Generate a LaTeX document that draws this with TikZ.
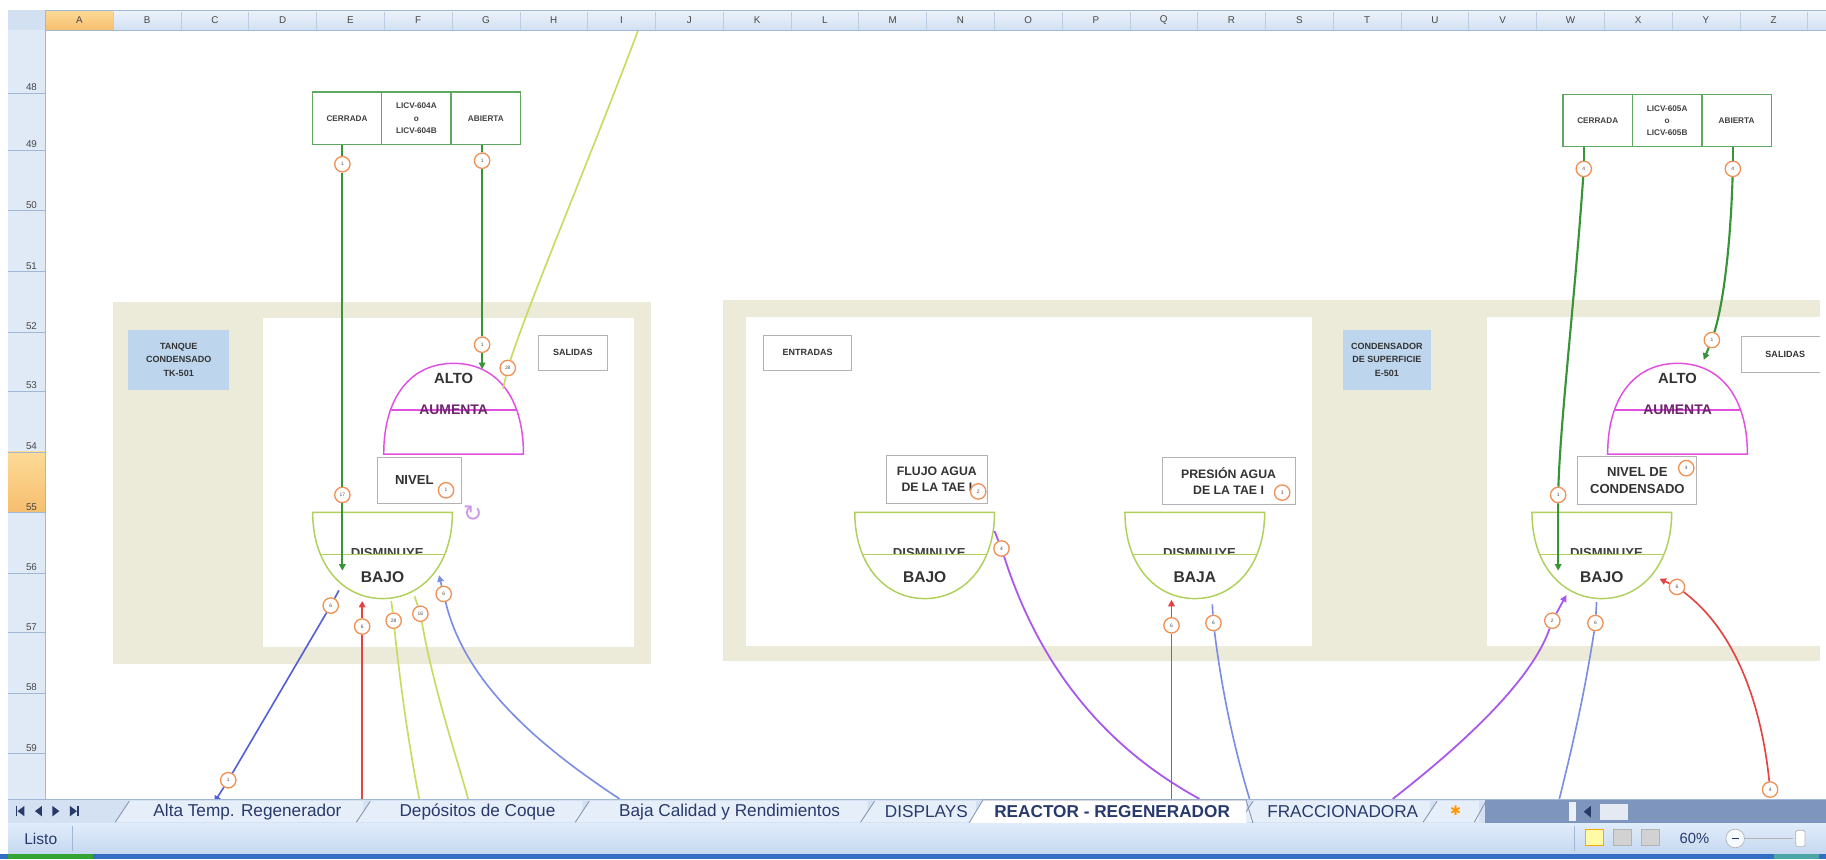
\documentclass[tikz,border=0pt]{standalone}
\usepackage{fontspec}
\setmainfont{Liberation Sans}
\newfontfamily\dejavu{DejaVu Sans}
\usetikzlibrary{arrows.meta}

\definecolor{beige}{RGB}{236,234,216}
\definecolor{boxblue}{RGB}{189,214,238}
\definecolor{tblgreen}{RGB}{96,168,96}
\definecolor{linegreen}{RGB}{56,148,56}
\definecolor{domemag}{RGB}{226,80,226}
\definecolor{aumpurple}{RGB}{110,36,110}
\definecolor{bowlgreen}{RGB}{176,208,92}
\definecolor{ylgreen}{RGB}{198,220,96}
\definecolor{tagorange}{RGB}{240,144,84}
\definecolor{blueline}{RGB}{86,96,214}
\definecolor{lblueline}{RGB}{124,142,228}
\definecolor{redline}{RGB}{230,66,66}
\definecolor{purpline}{RGB}{170,88,234}
\definecolor{lilac}{RGB}{204,150,236}
\definecolor{hdrtop}{RGB}{236,242,250}
\definecolor{hdrbot}{RGB}{210,224,242}
\definecolor{hdrline}{RGB}{160,184,214}
\definecolor{rowfill}{RGB}{224,234,247}
\definecolor{seltop}{RGB}{252,218,150}
\definecolor{selbot}{RGB}{246,190,110}
\definecolor{tabbar}{RGB}{212,225,242}
\definecolor{tabfill}{RGB}{230,238,249}
\definecolor{scrollfill}{RGB}{126,150,190}
\definecolor{stattop}{RGB}{224,236,250}
\definecolor{statbot}{RGB}{198,216,240}
\definecolor{tabtext}{RGB}{40,58,108}
\definecolor{barblue}{RGB}{52,110,196}

\tikzset{
  cell/.style={draw=tblgreen, line width=0.9pt, fill=white, minimum width=1.49cm, minimum height=1.125cm,
    inner sep=1pt, align=center, text=black!75, font=\fontsize{5}{7.5}\selectfont\bfseries},
  unitbox/.style={fill=boxblue, align=center, inner sep=1pt, text=black!80, font=\fontsize{5.5}{8}\selectfont\bfseries},
  outbox/.style={draw=gray!60, line width=0.6pt, fill=white, inner sep=1pt, text=black!80, font=\fontsize{5.5}{7}\selectfont\bfseries},
  varbox/.style={draw=gray!60, line width=0.6pt, fill=white, align=center, inner sep=1pt, text=black!80, font=\fontsize{7.5}{9.5}\selectfont\bfseries},
  tag/.style={circle, draw=tagorange, fill=white, line width=0.8pt, inner sep=0pt, minimum size=0.33cm, text=black!70, font=\fontsize{3}{3}\selectfont},
  domeline/.style={draw=domemag, line width=0.9pt},
  bowlline/.style={draw=bowlgreen, line width=0.9pt},
  altotxt/.style={inner sep=0pt, text=black!80, font=\fontsize{9}{9}\selectfont\bfseries},
  aumtxt/.style={inner sep=0pt, text=aumpurple, font=\fontsize{8.5}{8.5}\selectfont\bfseries},
  distxt/.style={inner sep=0pt, text=black!75, font=\fontsize{8}{8}\selectfont\bfseries},
  bajotxt/.style={inner sep=0pt, text=black!80, font=\fontsize{9.5}{9.5}\selectfont\bfseries},
  gline/.style={draw=linegreen, line width=1.3pt},
  yline/.style={draw=ylgreen, line width=1pt},
  bline/.style={draw=blueline, line width=1pt},
  lbline/.style={draw=lblueline, line width=1pt},
  rline/.style={draw=redline, line width=1pt},
  pline/.style={draw=purpline, line width=1.1pt},
  arrowend/.style={-{Triangle[length=4pt,width=4pt]}},
  colhead/.style={inner sep=0pt, text=gray!55!black, font=\fontsize{6}{6}\selectfont},
  rowhead/.style={inner sep=0pt, anchor=base east, text=gray!55!black, font=\fontsize{6}{6}\selectfont},
  tablbl/.style={inner sep=0pt, text=tabtext, font=\fontsize{10.5}{12}\selectfont},
}

% ALTO / AUMENTA half disc, #1 = centre x, #2 = name prefix
\newcommand{\domeat}[2]{%
  \begin{scope}[shift={(#1,0)}]
    \fill[white] (-60,390) .. controls (-60,340) and (-36,312) .. (0,312) .. controls (36,312) and (60,340) .. (60,390) -- cycle;
    \begin{scope}
      \clip (-60,390) .. controls (-60,340) and (-36,312) .. (0,312) .. controls (36,312) and (60,340) .. (60,390) -- cycle;
      \draw[domeline] (-61,352) -- (61,352);
    \end{scope}
    \draw[domeline] (-60,390) .. controls (-60,340) and (-36,312) .. (0,312) .. controls (36,312) and (60,340) .. (60,390) -- cycle;
    \node[altotxt] (#2alto) at (0,325) {ALTO};
    \node[aumtxt] (#2aum) at (0,352) {AUMENTA};
  \end{scope}}

% DISMINUYE / BAJO bowl, #1 = centre x, #2 = name prefix, #3 #4 = texts
\newcommand{\bowlat}[4]{%
  \begin{scope}[shift={(#1,0)}]
    \node[distxt, anchor=base] (#2dis) at (4,479) {#3};
    \begin{scope}
      \clip (-60,440) .. controls (-60,485) and (-34,514) .. (0,514) .. controls (34,514) and (60,485) .. (60,440) -- cycle;
      \fill[white] (-61,476) rectangle (61,516);
      \draw[bowlline] (-61,476) -- (61,476);
    \end{scope}
    \draw[bowlline] (-60,440) .. controls (-60,485) and (-34,514) .. (0,514) .. controls (34,514) and (60,485) .. (60,440) -- cycle;
    \node[bajotxt] (#2bajo) at (0,496) {#4};
  \end{scope}}

\begin{document}
\begin{tikzpicture}[x=0.025cm, y=-0.025cm]
  \useasboundingbox (0,0) rectangle (1568,738);
  \fill[white] (0,0) rectangle (1568,738);

  \begin{scope}
    \clip (39,26) rectangle (1563,686);
    % panels
    \fill[beige] (97,259) rectangle (559,570);
    \fill[white] (226,273) rectangle (544,556);
    \fill[beige] (621,258) rectangle (1563,568);
    \fill[white] (641,272) rectangle (1127,555);
    \fill[white] (1277,272) rectangle (1563,555);

    % equipment labels
    \node[unitbox, minimum width=2.175cm, minimum height=1.3cm] (tk501) at (153.5,309) {TANQUE\\CONDENSADO\\TK-501};
    \node[unitbox, minimum width=1.9cm, minimum height=1.3cm] (e501) at (1191,309) {CONDENSADOR\\DE SUPERFICIE\\E-501};

    % valve tables
    \node[cell] (cerrA) at (298,101.5) {CERRADA};
    \node[cell] (licvA) at (357.6,101.5) {LICV-604A\\o\\LICV-604B};
    \node[cell] (abieA) at (417.2,101.5) {ABIERTA};
    \node[cell] (cerrR) at (1372,103.5) {CERRADA};
    \node[cell] (licvR) at (1431.6,103.5) {LICV-605A\\o\\LICV-605B};
    \node[cell] (abieR) at (1491.2,103.5) {ABIERTA};

    % inputs / outputs
    \node[outbox, minimum width=1.5cm, minimum height=0.75cm] (salA) at (492,303) {SALIDAS};
    \node[outbox, minimum width=1.875cm, minimum height=0.75cm] (entM) at (693.5,303) {ENTRADAS};
    \node[outbox, minimum width=1.9cm, minimum height=0.775cm] (salR) at (1533,304.5) {SALIDAS};

    % variables
    \node[varbox, font=\fontsize{8}{9.5}\selectfont\bfseries, minimum width=1.8cm, minimum height=0.975cm] (nivA) at (360,412.5) {NIVEL\hspace{6pt}};
    \node[varbox, minimum width=2.175cm, minimum height=1.025cm] (fluM) at (804.5,411.5) {FLUJO AGUA\\DE LA TAE I\hspace{4pt}};
    \node[varbox, minimum width=2.85cm, minimum height=1cm] (preM) at (1055,413) {PRESIÓN AGUA\\DE LA TAE I};
    \node[varbox, font=\fontsize{8}{10}\selectfont\bfseries, minimum width=2.55cm, minimum height=1.025cm] (nivR) at (1406,412.5) {NIVEL DE\\CONDENSADO};

    % membership sets
    \domeat{389.5}{A}
    \domeat{1440.5}{R}
    \bowlat{328.5}{A}{DISMINUYE}{BAJO}
    \bowlat{794}{M}{DISMINUYE}{BAJO}
    \bowlat{1026}{N}{DISMINUYE}{BAJA}
    \bowlat{1375.5}{R}{DISMINUYE}{BAJO}
    \node[inner sep=0pt, text=lilac, font=\dejavu\fontsize{14}{14}\selectfont] (rotA) at (406,441) {↻};

    % tags
    \node[tag] (tA1) at (294,141) {1};
    \node[tag] (tA2) at (414,138) {1};
    \node[tag] (tA3) at (294,425) {17};
    \node[tag] (tA4) at (414,296) {1};
    \node[tag] (tA5) at (436,316) {28};
    \node[tag] (tA6) at (383,421) {1};
    \node[tag] (tA7) at (284,520) {6};
    \node[tag] (tA8) at (196,670) {1};
    \node[tag] (tA9) at (311,538) {6};
    \node[tag] (tA10) at (338,533) {28};
    \node[tag] (tA11) at (361,527) {16};
    \node[tag] (tA12) at (381,510) {6};
    \node[tag] (tM1) at (840,422) {2};
    \node[tag] (tM2) at (860,471) {4};
    \node[tag] (tM3) at (1101,423) {3};
    \node[tag] (tM4) at (1006,537) {6};
    \node[tag] (tM5) at (1042,535) {6};
    \node[tag] (tR1) at (1360,145) {4};
    \node[tag] (tR2) at (1488,145) {4};
    \node[tag] (tR3) at (1338,425) {1};
    \node[tag] (tR4) at (1470,292) {1};
    \node[tag] (tR5) at (1448,402) {4};
    \node[tag] (tR6) at (1333,533) {2};
    \node[tag] (tR7) at (1370,535) {6};
    \node[tag] (tR8) at (1440,504) {6};
    \node[tag] (tR9) at (1520,678) {4};

    % free ends
    \coordinate (eA1) at (294,490);
    \coordinate (eA2) at (414,317);
    \coordinate (yTop) at (548,26);
    \coordinate (eA5) at (432,334);
    \coordinate (sA7) at (291,507);
    \coordinate (eA8) at (184,689);
    \coordinate (eA9) at (311,516);
    \coordinate (bA9) at (311,686);
    \coordinate (sA10) at (336,516);
    \coordinate (bA10) at (360,686);
    \coordinate (sA11) at (356,512);
    \coordinate (bA11) at (402,686);
    \coordinate (eA12) at (377,494);
    \coordinate (bA12) at (532,686);
    \coordinate (sM2) at (854,456);
    \coordinate (bM2) at (1030,686);
    \coordinate (eM4) at (1006,515);
    \coordinate (bM4) at (1006,686);
    \coordinate (sM5) at (1041,519);
    \coordinate (bM5) at (1073,686);
    \coordinate (eR3) at (1338,490);
    \coordinate (eR4) at (1463,309);
    \coordinate (eR6) at (1345,511);
    \coordinate (bR6) at (1196,686);
    \coordinate (sR7) at (1371,517);
    \coordinate (bR7) at (1339,686);
    \coordinate (eR8) at (1425,497);

    % connectors, left block
    \draw[gline] (cerrA.south -| tA1) -- (tA1);
    \draw[gline, arrowend] (tA1) -- (tA3) -- (eA1);
    \draw[gline] (abieA.south -| tA2) -- (tA2);
    \draw[gline, arrowend] (tA2) -- (tA4) -- (eA2);
    \draw[yline] (yTop) .. controls (505,140) and (458,250) .. (tA5);
    \draw[yline] (tA5) -- (eA5);
    \draw[bline] (sA7) -- (tA7) -- (tA8);
    \draw[bline, arrowend] (tA8) -- (eA8);
    \draw[rline] (bA9) -- (tA9);
    \draw[rline, arrowend] (tA9) -- (eA9);
    \draw[yline] (sA10) -- (tA10);
    \draw[yline] (tA10) .. controls (345,600) and (353,650) .. (bA10);
    \draw[yline] (sA11) -- (tA11);
    \draw[yline] (tA11) .. controls (372,590) and (392,650) .. (bA11);
    \draw[lbline, arrowend] (tA12) -- (eA12);
    \draw[lbline] (tA12) .. controls (400,590) and (470,645) .. (bA12);

    % connectors, middle block
    \draw[pline] (sM2) -- (tM2);
    \draw[pline] (tM2) .. controls (895,580) and (955,645) .. (bM2);
    \draw[rline] (bM4) -- (tM4);
    \draw[rline, arrowend] (tM4) -- (eM4);
    \draw[lbline] (sM5) -- (tM5);
    \draw[lbline] (tM5) .. controls (1050,600) and (1062,650) .. (bM5);

    % connectors, right block
    \draw[gline] (cerrR.south -| tR1) -- (tR1);
    \draw[gline, arrowend] (tR1) .. controls (1352,260) and (1340,360) .. (tR3) -- (eR3);
    \draw[gline] (abieR.south -| tR2) -- (tR2);
    \draw[gline, arrowend] (tR2) .. controls (1486,210) and (1480,260) .. (tR4) -- (eR4);
    \draw[pline, arrowend] (tR6) -- (eR6);
    \draw[pline] (bR6) .. controls (1255,640) and (1315,585) .. (tR6);
    \draw[lbline] (sR7) -- (tR7);
    \draw[lbline] (tR7) .. controls (1360,600) and (1348,650) .. (bR7);
    \draw[rline, arrowend] (tR8) -- (eR8);
    \draw[rline] (tR9) .. controls (1512,600) and (1488,540) .. (tR8);
  \end{scope}

  % column headers
  \fill[top color=hdrtop, bottom color=hdrbot] (7,9) rectangle (1568,26);
  \fill[top color=seltop, bottom color=selbot] (39,9) rectangle (97.2,26);
  \foreach \i in {0,...,26}
    \draw[hdrline!70!white] ({39+58.2*\i},10) -- ({39+58.2*\i},26);
  \foreach \c [count=\i from 0] in {A,...,Z}
    \node[colhead] (col\c) at ({68.1+58.2*\i},17.5) {\c};
  \draw[hdrline] (7,9) -- (1568,9);
  \draw[hdrline] (7,26) -- (1568,26);

  % row headers
  \fill[rowfill] (7,26) rectangle (39,686);
  \fill[hdrbot] (7,9) rectangle (39,26);
  \fill[top color=seltop, bottom color=selbot] (7,388) rectangle (39,440);
  \draw[hdrline] (39,9) -- (39,686);
  \foreach \r/\y in {48/80,49/129,50/181,51/233,52/285,53/336,54/388,55/440,56/492,57/543,58/595,59/647} {
    \draw[hdrline] (7,\y) -- (39,\y);
    \node[rowhead] (row\r) at (32,\y-2) {\r};
  }

  % sheet tabs
  \fill[tabbar] (7,686) rectangle (1275,707);
  \fill[scrollfill] (1275,686) rectangle (1568,707);
  \draw[hdrline] (7,686) -- (1568,686);
  \foreach \xl/\xr/\lab [count=\k] in {105/312/Alta Temp. Regenerador, 312/500/Depósitos de Coque,
      500/745/Baja Calidad y Rendimientos, 745/838/DISPLAYS, 1070/1228/FRACCIONADORA} {
    \fill[tabfill] (\xl-6,706) -- (\xl+6,688) -- (\xr,688) -- (\xr,706) -- cycle;
    \draw[hdrline!80!black, line width=0.5pt] (\xl-6,706) -- (\xl+6,688);
    \node[tablbl] (tab\k) at ({(\xl+\xr)/2+4},697) {\lab};
  }
  \fill[white] (832,707) -- (844,687) -- (1070,687) -- (1070,707) -- cycle;
  \draw[hdrline!80!black, line width=0.5pt] (832,707) -- (844,687) -- (1070,687) -- (1076,707);
  \node[tablbl, font=\fontsize{10.5}{12}\selectfont\bfseries] (tabact) at (955,697) {REACTOR - REGENERADOR};
  \fill[tabfill] (1222,706) -- (1234,688) -- (1270,688) -- (1270,706) -- cycle;
  \draw[hdrline!80!black, line width=0.5pt] (1222,706) -- (1234,688);
  \draw[hdrline!80!black, line width=0.5pt] (1266,706) -- (1276,688);
  \node[inner sep=0pt, text=orange!80!yellow, font=\dejavu\fontsize{8}{8}\selectfont] (tabnew) at (1250,696) {✱};

  % tab navigation
  \draw[tabtext, line width=0.8pt] (14,692) -- (14,701);
  \fill[tabtext] (15,696.5) -- (21,692) -- (21,701) -- cycle;
  \fill[tabtext] (30,696.5) -- (36,692) -- (36,701) -- cycle;
  \fill[tabtext] (51,696.5) -- (45,692) -- (45,701) -- cycle;
  \fill[tabtext] (66,696.5) -- (60,692) -- (60,701) -- cycle;
  \draw[tabtext, line width=0.8pt] (67,692) -- (67,701);

  % horizontal scroll
  \fill[white!85!scrollfill] (1347,689) rectangle (1353,705);
  \fill[tabtext] (1360,697) -- (1366,692) -- (1366,702) -- cycle;
  \fill[white!80!scrollfill] (1374,690) rectangle (1398,704);

  % status bar
  \fill[top color=stattop, bottom color=statbot] (7,707) rectangle (1568,733);
  \node[inner sep=0pt, text=tabtext, font=\fontsize{9.5}{10}\selectfont] (listo) at (35,720) {Listo};
  \draw[hdrline] (62,709) -- (62,731);
  \draw[hdrline] (1352,709) -- (1352,731);
  \node[draw=orange!70!yellow, fill=yellow!35, minimum width=0.4cm, minimum height=0.35cm, inner sep=0pt] (viewn) at (1369,719) {};
  \node[draw=gray!60, fill=gray!35, minimum width=0.4cm, minimum height=0.35cm, inner sep=0pt] (viewp) at (1393,719) {};
  \node[draw=gray!60, fill=gray!35, minimum width=0.4cm, minimum height=0.35cm, inner sep=0pt] (viewb) at (1417,719) {};
  \node[inner sep=0pt, text=tabtext, font=\fontsize{9}{10}\selectfont] (zoompct) at (1455,720) {60\%};
  \node[circle, draw=gray!60, fill=white!85!statbot, minimum size=0.4cm, inner sep=0pt] (zoomout) at (1490,720) {};
  \draw[tabtext, line width=1pt] (zoomout.center) ++(-3,0) -- ++(6,0);
  \draw[gray!60] (zoomout.east) -- (1540,720);
  \node[draw=gray!60, fill=white, minimum width=0.2cm, minimum height=0.35cm, inner sep=0pt, rounded corners=1pt] (zoomthumb) at (1546,720) {};

  % bottom strip
  \fill[barblue] (0,733) rectangle (1568,738);
  \fill[green!55!black!80] (7,733) rectangle (80,738);
  \fill[teal!70] (1523,733) rectangle (1562,738);
\end{tikzpicture}
\end{document}
